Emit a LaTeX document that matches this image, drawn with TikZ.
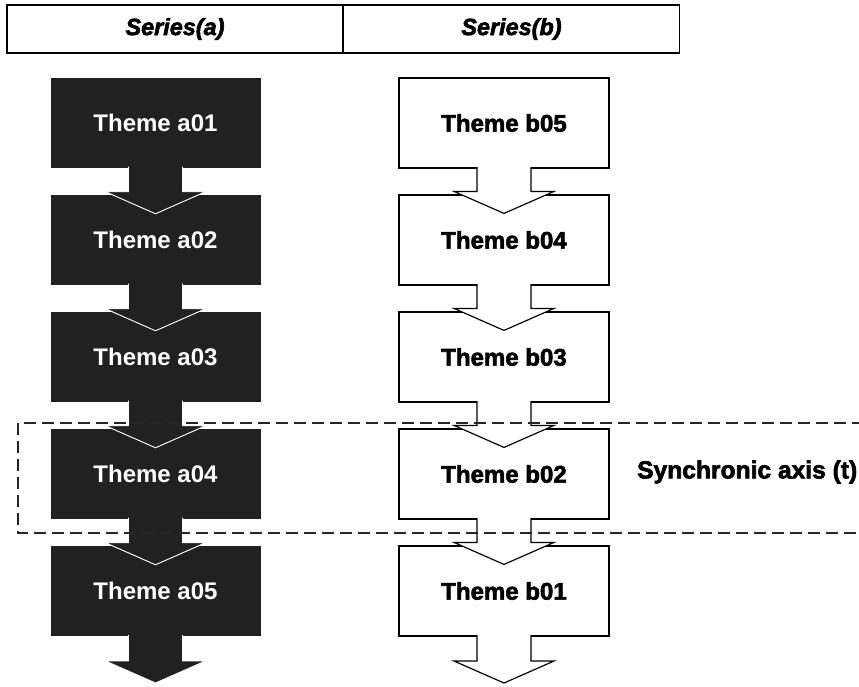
\documentclass[tikz,border=0pt]{standalone}
\usepackage{fontspec}
\setmainfont{Liberation Sans}
\newfontfamily\heavyfont[BoldFeatures={FakeBold=2.5},BoldItalicFeatures={FakeBold=2.5}]{Liberation Sans}
\usetikzlibrary{calc}

\tikzset{
  darkbox/.style={fill=black!87, text=white, minimum width=63mm, minimum height=27mm,
    font=\fontsize{20.5}{24}\selectfont\bfseries},
  lightbox/.style={draw=black, line width=1pt, fill=white, minimum width=63mm, minimum height=27mm,
    font=\fontsize{20.5}{24}\selectfont\heavyfont\bfseries},
  darkarrow/.style={fill=black!87, draw=white, line width=0.8pt},
  lightarrow/.style={fill=white, draw=black, line width=1pt},
  headcell/.style={draw=black, line width=1pt, minimum width=100.8mm, minimum height=14.4mm,
    font=\fontsize{20}{24}\selectfont\heavyfont\bfseries\itshape},
}

% block arrow: style, from box, to point (top middle of next box)
\newcommand{\flowarrow}[3]{%
  \filldraw[#1] ($(#2.south)+(-27,-1.5)$) -- ($(#3)+(-27,-3)$) -- ($(#3)+(-50,-3)$)
    -- ($(#3)+(0,19)$) -- ($(#3)+(50,-3)$) -- ($(#3)+(27,-3)$) -- ($(#2.south)+(27,-1.5)$);}

\begin{document}
\begin{tikzpicture}[x=0.3mm, y=-0.3mm]
  \useasboundingbox (0,0) rectangle (859,686);

  % header
  \node[headcell] (sera) at (175,29) {Series(a)};
  \node[headcell] (serb) at (511.5,29) {Series(b)};

  % the two series
  \foreach \i/\y/\n in {1/123/5, 2/240/4, 3/357/3, 4/474/2, 5/591/1} {
    \node[darkbox] (a\i) at (155.5,\y) {Theme a0\i};
    \node[lightbox] (b\i) at (504,\y) {Theme b0\n};
  }
  \coordinate (a6) at (155.5,664);
  \coordinate (b6) at (504,664);

  \foreach \i/\j in {1/2, 2/3, 3/4, 4/5} {
    \flowarrow{darkarrow}{a\i}{a\j.north}
    \flowarrow{lightarrow}{b\i}{b\j.north}
  }
  \flowarrow{darkarrow}{a5}{a6}
  \flowarrow{lightarrow}{b5}{b6}

  % synchronic axis
  \draw[black!85, line width=1pt, dash pattern=on 3.6mm off 1.8mm] (18,423) rectangle (880,533);
  \node[anchor=west, font=\fontsize{21}{24}\selectfont\heavyfont\bfseries] (synch) at (633,472) {Synchronic axis (t)};
\end{tikzpicture}
\end{document}
